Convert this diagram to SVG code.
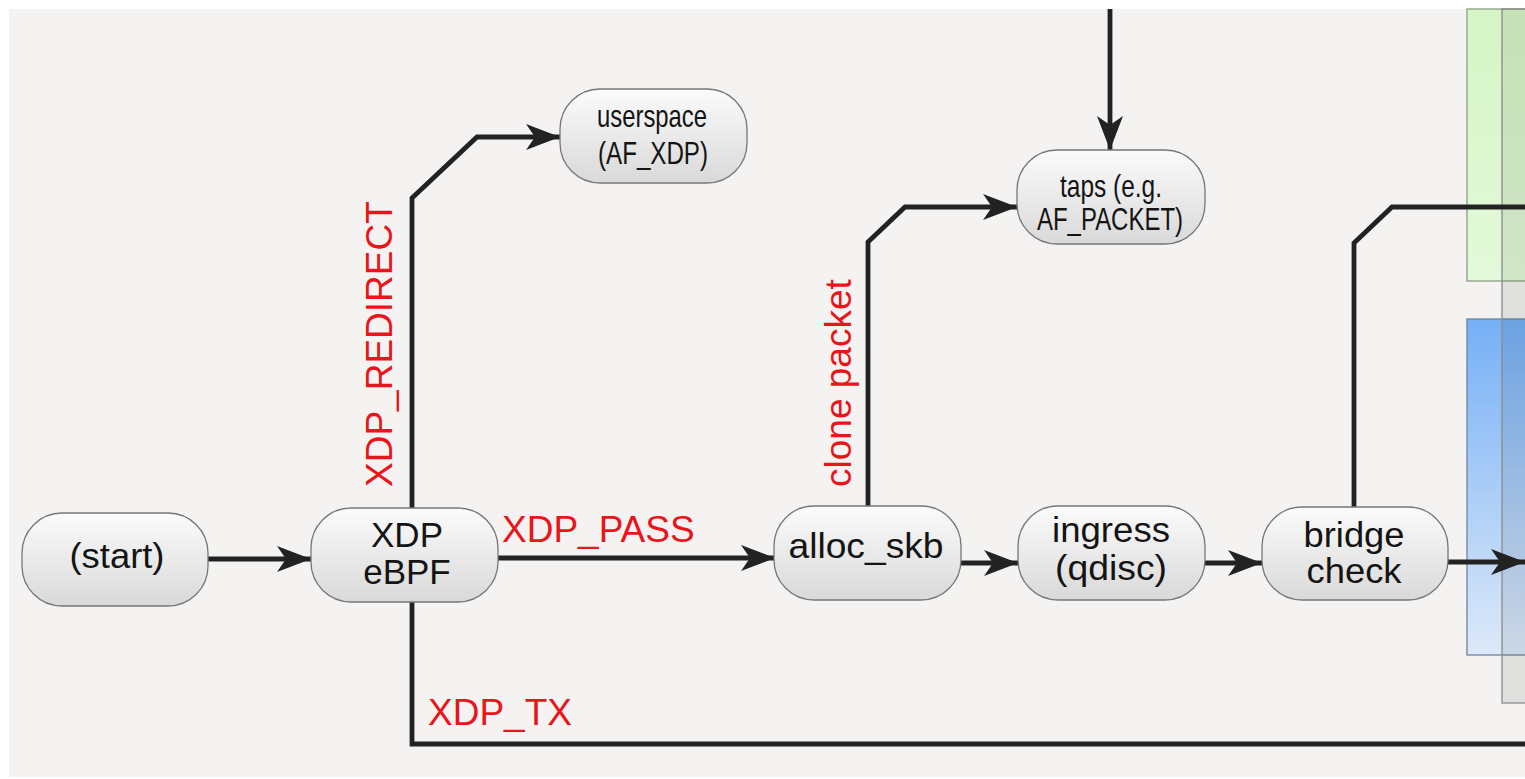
<svg xmlns="http://www.w3.org/2000/svg" width="1525" height="779" viewBox="0 0 1525 779">
  <defs>
    <linearGradient id="nodeFill" x1="0" y1="0" x2="0" y2="1">
      <stop offset="0" stop-color="#fbfbfb"/>
      <stop offset="1" stop-color="#d9d9d9"/>
    </linearGradient>
    <linearGradient id="greenFill" x1="0" y1="0" x2="0" y2="1">
      <stop offset="0" stop-color="#d6f5c6"/>
      <stop offset="1" stop-color="#e3f9da"/>
    </linearGradient>
    <linearGradient id="blueFill" x1="0" y1="0" x2="0" y2="1">
      <stop offset="0" stop-color="#76b0f6"/>
      <stop offset="1" stop-color="#dde9f8"/>
    </linearGradient>
    <marker id="arrow" markerUnits="userSpaceOnUse" markerWidth="40" markerHeight="30" viewBox="-35 -15 37 30" refX="0" refY="0" orient="auto">
      <path d="M0,0 L-34,-13 L-25,0 L-34,13 Z" fill="#222"/>
    </marker>
    <style>
      .node rect { fill: url(#nodeFill); stroke: #777; stroke-width: 1.3; }
      .node text { font-family: "Liberation Sans", Arial, sans-serif; fill: #141414; text-anchor: middle; }
      .big { font-size: 35px; }
      .small { font-size: 32px; }
      .edge { fill: none; stroke: #222; stroke-width: 4.8; stroke-linejoin: miter; }
      .label { font-family: "Liberation Sans", Arial, sans-serif; font-size: 37px; fill: #e8151b; }
    </style>
  </defs>

  <!-- canvas -->
  <rect x="0" y="0" width="1525" height="779" fill="#ffffff"/>
  <rect x="9" y="9" width="1516" height="768" fill="#f4f3f2"/>

  <!-- stage panels on the right edge -->
  <g id="panels">
    <rect x="1467" y="9" width="70" height="272" fill="url(#greenFill)" stroke="#8aa080" stroke-width="1.3"/>
    <rect x="1467" y="319" width="70" height="336" fill="url(#blueFill)" stroke="#6b84a0" stroke-width="1.3"/>
    <rect x="1502" y="9" width="40" height="694" fill="#000" fill-opacity="0.08" stroke="#8a8a8a" stroke-width="1.3"/>
  </g>

  <!-- connectors -->
  <g id="connectors">
    <path class="edge" d="M208,559 L311,559" marker-end="url(#arrow)"/>
    <path class="edge" d="M497,558 L775,558" marker-end="url(#arrow)"/>
    <path class="edge" d="M412,508 L412,198 L477,137 L560,137" marker-end="url(#arrow)"/>
    <path class="edge" d="M412,602 L412,744 L1525,744"/>
    <path class="edge" d="M868,506 L868,242 L905,207 L1017,207" marker-end="url(#arrow)"/>
    <path class="edge" d="M1110,9 L1110,150" marker-end="url(#arrow)"/>
    <path class="edge" d="M961,563 L1018,563" marker-end="url(#arrow)"/>
    <path class="edge" d="M1205,563 L1262,563" marker-end="url(#arrow)"/>
    <path class="edge" d="M1448,562 L1525,562" marker-end="url(#arrow)"/>
    <path class="edge" d="M1354,507 L1354,243 L1392,207 L1525,207"/>

    <text class="label" x="502" y="542">XDP_PASS</text>
    <text class="label" x="428" y="725">XDP_TX</text>
    <text class="label" transform="translate(392,487) rotate(-90)">XDP_REDIRECT</text>
    <text class="label" transform="translate(851,487) rotate(-90)">clone packet</text>
  </g>

  <!-- nodes -->
  <g id="start" class="node">
    <rect x="22" y="513" width="186" height="93" rx="40" ry="40"/>
    <text class="big" x="117" y="568" textLength="95" lengthAdjust="spacingAndGlyphs">(start)</text>
  </g>
  <g id="xdp" class="node">
    <rect x="311" y="508" width="187" height="94" rx="40" ry="40"/>
    <text class="big" x="407" y="547">XDP</text>
    <text class="big" x="407" y="584">eBPF</text>
  </g>
  <g id="userspace" class="node">
    <rect x="560" y="89" width="187" height="94" rx="40" ry="40"/>
    <text class="small" x="652" y="127" textLength="110" lengthAdjust="spacingAndGlyphs">userspace</text>
    <text class="small" x="653" y="164" textLength="110" lengthAdjust="spacingAndGlyphs">(AF_XDP)</text>
  </g>
  <g id="alloc_skb" class="node">
    <rect x="774" y="506" width="187" height="94" rx="40" ry="40"/>
    <text class="big" x="866" y="558" textLength="155" lengthAdjust="spacingAndGlyphs">alloc_skb</text>
  </g>
  <g id="taps" class="node">
    <rect x="1017" y="150" width="188" height="94" rx="40" ry="40"/>
    <text class="small" x="1111" y="197" textLength="102" lengthAdjust="spacingAndGlyphs">taps (e.g.</text>
    <text class="small" x="1110" y="230" textLength="146" lengthAdjust="spacingAndGlyphs">AF_PACKET)</text>
  </g>
  <g id="ingress" class="node">
    <rect x="1018" y="506" width="187" height="94" rx="40" ry="40"/>
    <text class="big" x="1111" y="542" textLength="118" lengthAdjust="spacingAndGlyphs">ingress</text>
    <text class="big" x="1111" y="580" textLength="112" lengthAdjust="spacingAndGlyphs">(qdisc)</text>
  </g>
  <g id="bridge" class="node">
    <rect x="1262" y="507" width="186" height="93" rx="40" ry="40"/>
    <text class="big" x="1354" y="547" textLength="101" lengthAdjust="spacingAndGlyphs">bridge</text>
    <text class="big" x="1354" y="583" textLength="95" lengthAdjust="spacingAndGlyphs">check</text>
  </g>
</svg>
